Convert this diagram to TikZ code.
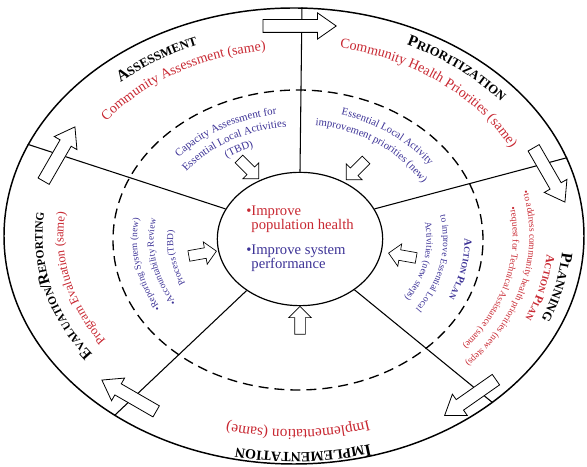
\documentclass[tikz,border=0pt]{standalone}
\usepackage{fontspec}
\setmainfont{Liberation Serif}
\usetikzlibrary{shapes.geometric,shapes.arrows,decorations.text}

\definecolor{redtext}{RGB}{200,40,50}
\definecolor{bluetext}{RGB}{60,50,150}

% text set on an elliptic arc: centre, x radius, y radius, from, to, decoration keys
\newcommand{\curvetext}[6]{%
  \path[decorate,decoration={text along path,text align=center,#6}]
    (#1) ++(#4:#2 and #3) arc[start angle=#4,end angle=#5,x radius=#2,y radius=#3];}

\begin{document}
\begin{tikzpicture}[x=0.75pt,y=0.75pt,
  spoke/.style={line width=0.8pt},
  bigarrow/.style={single arrow,draw,fill=white,line width=0.6pt,inner xsep=0pt,
    inner ysep=4.5pt,minimum height=47pt,single arrow head extend=5pt,
    single arrow tip angle=70},
  smallarrow/.style={single arrow,draw,fill=white,line width=0.5pt,inner xsep=0pt,
    inner ysep=3.75pt,minimum height=21pt,single arrow head extend=4.5pt}]
\useasboundingbox (0,0) rectangle (587,467);

% rings
\node[ellipse,draw,line width=1.1pt,inner sep=0pt,minimum width=435pt,minimum height=342pt] (rim) at (294,231) {};
\node[ellipse,draw,line width=1pt,dash pattern=on 7.5pt off 4.5pt,inner sep=0pt,
  minimum width=277.5pt,minimum height=225pt] (ring) at (298,227) {};
\node[ellipse,draw,line width=0.9pt,inner sep=0pt,minimum width=124pt,minimum height=100pt,
  align=left,font=\fontsize{11}{10.5}\selectfont] (hub) at (300,228)
  {\textcolor{redtext}{\textbullet Improve}\\
   \textcolor{redtext}{\hphantom{\textbullet}population health}\\[8pt]
   \textcolor{bluetext}{\textbullet Improve system}\\
   \textcolor{bluetext}{\hphantom{\textbullet}performance}};

% spokes
\draw[spoke] (hub.90) -- (rim.88);
\draw[spoke] (hub.22) -- (rim.16);
\draw[spoke] (hub.-43) -- (rim.-40);
\draw[spoke] (hub.-136) -- (rim.-135);
\draw[spoke] (hub.158) -- (rim.161);

% outer ring texts
\curvetext{rim.center}{261}{205.2}{160}{87}{text={|\fontsize{12}{12}\selectfont\bfseries|A|\fontsize{9.5}{9.5}\selectfont\bfseries|SSESSMENT}}
\curvetext{rim.center}{237.8}{187}{172}{72}{text color=redtext,text={|\fontsize{10.5}{10.5}\selectfont|Community Assessment (same)}}
\curvetext{rim.center}{268.3}{210.9}{90}{10}{text={|\fontsize{12}{12}\selectfont\bfseries|P|\fontsize{9.5}{9.5}\selectfont\bfseries|RIORITIZATION}}
\curvetext{rim.center}{243.6}{191.5}{105}{-5}{text color=redtext,text={|\fontsize{10.5}{10.5}\selectfont|Community Health Priorities (same)}}
\curvetext{rim.center}{268.8}{211.4}{17}{-43}{text={|\fontsize{12}{12}\selectfont\bfseries|P|\fontsize{9.5}{9.5}\selectfont\bfseries|LANNING}}
\curvetext{rim.center}{253.8}{199.6}{16}{-44}{text color=redtext,text={|\fontsize{9}{9}\selectfont\bfseries|A|\fontsize{7}{7}\selectfont\bfseries|CTION |\fontsize{9}{9}\selectfont\bfseries|P|\fontsize{7}{7}\selectfont\bfseries|LAN}}
\curvetext{rim.center}{235.5}{185.1}{36.5}{-63.5}{text color=redtext,text={|\fontsize{7}{7}\selectfont|•to address community health priorities (new steps)}}
\curvetext{rim.center}{218.9}{172.1}{36.4}{-63.6}{text color=redtext,text={|\fontsize{7}{7}\selectfont|•request for Technical Assistance (same)}}
\curvetext{rim.center}{275.5}{216.6}{-58}{-118}{text={|\fontsize{13}{13}\selectfont\bfseries|I|\fontsize{10.5}{10.5}\selectfont\bfseries|MPLEMENTATION}}
\curvetext{rim.center}{246.8}{194}{-59}{-119}{text color=redtext,text={|\fontsize{11.5}{11.5}\selectfont|Implementation (same)}}
\curvetext{rim.center}{251.4}{197.7}{234}{154}{text={|\fontsize{11.5}{11.5}\selectfont\bfseries|E|\fontsize{8.5}{8.5}\selectfont\bfseries|VALUATION|\fontsize{11.5}{11.5}\selectfont\bfseries|/R|\fontsize{8.5}{8.5}\selectfont\bfseries|EPORTING}}
\curvetext{rim.center}{230.6}{181.3}{233}{153}{text color=redtext,text={|\fontsize{9.5}{9.5}\selectfont|Program Evaluation (same)}}

% inner ring texts
\curvetext{ring.center}{156.3}{126.8}{171}{71}{text color=bluetext,text={|\fontsize{8.2}{8.2}\selectfont|Capacity Assessment for}}
\curvetext{ring.center}{139.7}{113.3}{171}{71}{text color=bluetext,text={|\fontsize{8.2}{8.2}\selectfont|Essential Local Activities}}
\curvetext{ring.center}{123}{99.8}{171}{71}{text color=bluetext,text={|\fontsize{8.2}{8.2}\selectfont|(TBD)}}
\curvetext{ring.center}{160}{129.8}{102}{2}{text color=bluetext,text={|\fontsize{8}{8}\selectfont|Essential Local Activity}}
\curvetext{ring.center}{142.5}{115.5}{104}{4}{text color=bluetext,text={|\fontsize{8}{8}\selectfont|improvement priorities (new)}}
\curvetext{ring.center}{166.5}{135}{39}{-61}{text color=bluetext,text={|\fontsize{8}{8}\selectfont\bfseries|A|\fontsize{6.3}{6.3}\selectfont\bfseries|CTION |\fontsize{8}{8}\selectfont\bfseries|P|\fontsize{6.3}{6.3}\selectfont\bfseries|LAN}}
\curvetext{ring.center}{145.2}{117.8}{39}{-61}{text color=bluetext,text={|\fontsize{7}{7}\selectfont|to improve Essential Local}}
\curvetext{ring.center}{128.6}{104.3}{39}{-61}{text color=bluetext,text={|\fontsize{7}{7}\selectfont|Activities (new steps)}}
\curvetext{ring.center}{161}{130.5}{240}{140}{text color=bluetext,text={|\fontsize{7}{7}\selectfont|•Reporting System (new)}}
\curvetext{ring.center}{144.3}{117}{240}{140}{text color=bluetext,text={|\fontsize{7}{7}\selectfont|•Accountability Review}}
\curvetext{ring.center}{124.9}{101.3}{239}{139}{text color=bluetext,text={|\fontsize{7}{7}\selectfont|Process (TBD)}}

% big arrows round the rim
\node[bigarrow,minimum height=55pt] (a1) at (295,441) {};
\node[bigarrow,rotate=-60] (a2) at (547,296) {};
\node[bigarrow,rotate=-145] (a3) at (474,72) {};
\node[bigarrow,rotate=150] (a4) at (133,69) {};
\node[bigarrow,rotate=60] (a5) at (57,309) {};

% small arrows into the hub
\node[smallarrow,rotate=-45] (s1) at (247,300) {};
\node[smallarrow,rotate=-135] (s2) at (358,299) {};
\node[smallarrow,rotate=170] (s3) at (405,211) {};
\node[smallarrow,rotate=10] (s4) at (200,213) {};
\node[smallarrow,rotate=90] (s5) at (300,144) {};
\end{tikzpicture}
\end{document}
